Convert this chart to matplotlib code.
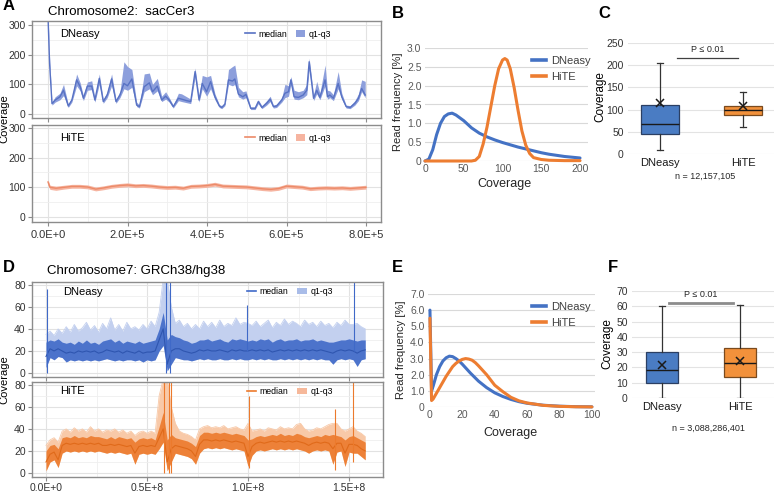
import matplotlib
matplotlib.use("Agg")
import matplotlib.pyplot as plt
import numpy as np
from matplotlib.lines import Line2D
from matplotlib.patches import Patch

plt.rcParams['font.family'] = ['Liberation Sans', 'DejaVu Sans']

# ---------------- data ----------------
# A: chromosome 2 (sacCer3), DNeasy
a_kb = [0, 4, 10, 18, 30, 39, 51, 60, 72, 81, 89, 99, 110, 118, 129, 139, 149, 160, 171, 181,
        191, 200, 211, 223, 230, 242, 255, 263, 275, 286, 296, 305, 315, 328, 336, 349, 359, 370,
        380, 388, 399, 409, 420, 431, 437, 445, 454, 464, 470, 479, 490, 498, 510, 521, 529, 538,
        550, 559, 567, 575, 588, 596, 605, 611, 619, 630, 642, 651, 657, 668, 676, 684, 697, 703,
        709, 718, 730, 739, 750, 760, 772, 781, 789, 798]
a_dn_med = [330, 170, 35, 47, 58, 80, 27, 47, 115, 92, 53, 94, 94, 47, 120, 42, 64, 118, 42, 64,
            103, 95, 118, 30, 25, 92, 105, 75, 94, 47, 60, 47, 25, 53, 50, 45, 42, 143,
            47, 103, 75, 109, 58, 27, 22, 33, 115, 111, 118, 67, 58, 66, 19, 19, 42, 22,
            36, 50, 25, 27, 47, 70, 75, 115, 58, 56, 64, 80, 176, 53, 80, 56, 115, 58,
            64, 53, 103, 58, 25, 22, 36, 53, 86, 64]
a_dn_q1 = [320, 150, 30, 40, 48, 62, 22, 40, 95, 78, 45, 80, 82, 40, 100, 36, 55, 95, 36, 55,
           85, 80, 90, 25, 20, 75, 85, 65, 78, 42, 50, 40, 20, 45, 42, 38, 35, 125,
           40, 85, 60, 85, 48, 22, 18, 28, 100, 95, 100, 58, 50, 55, 15, 15, 35, 18,
           30, 42, 20, 22, 40, 55, 60, 100, 50, 48, 55, 65, 150, 45, 68, 48, 95, 50,
           55, 45, 85, 50, 20, 18, 30, 45, 75, 55]
a_dn_q3 = [340, 190, 40, 58, 70, 100, 33, 55, 135, 105, 62, 108, 112, 55, 135, 50, 75, 135, 50, 75,
           176, 160, 150, 40, 30, 135, 138, 100, 120, 60, 75, 55, 30, 70, 68, 58, 50, 155,
           60, 130, 125, 130, 68, 32, 28, 40, 150, 160, 165, 90, 75, 78, 24, 24, 48, 28,
           45, 60, 30, 33, 55, 100, 95, 126, 80, 75, 80, 100, 188, 65, 110, 70, 165, 80,
           78, 65, 143, 70, 30, 28, 45, 68, 115, 110]

# A: HiTE
h_kb = [0, 5, 20, 40, 60, 80, 100, 120, 140, 160, 180, 200, 220, 240, 260, 280, 300, 320, 340,
        360, 380, 400, 420, 440, 460, 480, 500, 520, 540, 560, 580, 600, 620, 640, 660, 680, 700,
        720, 740, 760, 780, 800]
h_med = [118, 100, 97, 100, 103, 103, 101, 94, 98, 103, 106, 108, 105, 106, 104, 101, 99, 100, 97,
         103, 104, 106, 110, 104, 103, 102, 101, 98, 95, 93, 96, 104, 102, 100, 95, 97, 98,
         97, 98, 96, 98, 100]
h_q1 = [108, 93, 90, 94, 97, 97, 95, 88, 92, 97, 100, 102, 99, 100, 98, 95, 93, 94, 91,
        97, 98, 100, 104, 98, 97, 96, 95, 92, 89, 87, 90, 98, 96, 94, 89, 91, 92,
        91, 92, 90, 92, 94]
h_q3 = [126, 107, 104, 107, 110, 110, 108, 101, 105, 110, 113, 115, 112, 113, 111, 108, 106, 107, 104,
        110, 111, 113, 117, 111, 110, 109, 108, 105, 102, 100, 103, 111, 109, 107, 102, 104, 105,
        104, 105, 103, 105, 107]

# B: read frequency, sacCer3
b_dn_cov = [0, 5, 10, 15, 20, 25, 30, 35, 40, 50, 60, 70, 80, 90, 100, 110, 120, 130, 140, 150,
            160, 170, 180, 190, 200]
b_dn = [0, 0.05, 0.3, 0.7, 1.0, 1.18, 1.25, 1.27, 1.22, 1.07, 0.88, 0.74, 0.64, 0.56, 0.49, 0.43,
        0.37, 0.32, 0.27, 0.22, 0.18, 0.15, 0.12, 0.1, 0.08]
b_hi_cov = [0, 10, 20, 30, 40, 50, 60, 65, 70, 75, 80, 85, 90, 95, 100, 103, 106, 110, 115, 120,
            125, 130, 135, 140, 150, 160, 180, 200]
b_hi = [0, 0, 0, 0, 0, 0, 0, 0.02, 0.12, 0.45, 0.9, 1.45, 2.0, 2.45, 2.68, 2.72, 2.68, 2.45, 1.95,
        1.35, 0.8, 0.42, 0.2, 0.09, 0.04, 0.02, 0.01, 0.01]

# C: boxplot, sacCer3
groups = ['DNeasy', 'HiTE']
c_whislo = [10, 60]
c_q1 = [45, 88]
c_med = [68, 100]
c_q3 = [110, 108]
c_whishi = [205, 140]
c_mean = [115, 108]

# D: chromosome 7 (GRCh38), 2 Mb bins
d_mb = [0, 2, 4, 6, 8, 10, 12, 14, 16, 18, 20, 22, 24, 26, 28, 30, 32, 34, 36, 38,
        40, 42, 44, 46, 48, 50, 52, 54, 56, 58, 60, 62, 64, 66, 68, 70, 72, 74, 76, 78,
        80, 82, 84, 86, 88, 90, 92, 94, 96, 98, 100, 102, 104, 106, 108, 110, 112, 114, 116, 118,
        120, 122, 124, 126, 128, 130, 132, 134, 136, 138, 140, 142, 144, 146, 148, 150, 152, 154, 156, 158]
d_dn_q1 = [5, 14, 12, 15, 14, 10, 12, 11, 12, 11, 12, 11, 12, 11, 12, 13, 12, 11, 12, 11,
           12, 12, 11, 12, 10, 12, 11, 12, 20, 25, 2, 8, 14, 13, 12, 12, 11, 12, 13, 12,
           13, 12, 12, 13, 12, 12, 13, 12, 13, 12, 12, 13, 12, 13, 12, 13, 12, 12, 13, 12,
           13, 12, 13, 12, 13, 12, 13, 12, 13, 12, 12, 8, 12, 13, 12, 13, 12, 6, 12, 13]
d_dn_med = [15, 22, 20, 22, 20, 18, 19, 18, 20, 19, 20, 19, 20, 18, 19, 21, 20, 19, 20, 18,
            20, 19, 18, 20, 18, 19, 19, 20, 30, 40, 8, 20, 22, 22, 20, 19, 18, 19, 21, 20,
            21, 20, 20, 21, 20, 19, 21, 20, 21, 20, 20, 21, 20, 21, 20, 21, 19, 20, 21, 20,
            21, 20, 21, 20, 21, 20, 21, 20, 21, 20, 19, 18, 20, 21, 20, 21, 20, 18, 20, 21]
d_dn_q3 = [28, 30, 29, 31, 28, 27, 28, 26, 29, 27, 30, 27, 28, 26, 29, 30, 31, 28, 30, 27,
           29, 28, 27, 29, 27, 28, 29, 30, 40, 55, 30, 35, 33, 32, 30, 29, 27, 28, 30, 30,
           31, 29, 30, 31, 29, 28, 31, 30, 31, 30, 29, 30, 29, 31, 30, 31, 28, 30, 31, 29,
           30, 30, 31, 29, 30, 30, 31, 29, 30, 29, 28, 28, 29, 30, 30, 31, 30, 29, 30, 30]
d_dn_hi = [35, 38, 34, 40, 36, 42, 37, 44, 38, 41, 46, 39, 43, 37, 45, 40, 50, 39, 44, 38,
           46, 40, 42, 39, 44, 40, 47, 42, 55, 85, 85, 60, 45, 48, 42, 45, 40, 44, 40, 47,
           42, 46, 41, 48, 42, 45, 43, 50, 44, 46, 45, 43, 47, 42, 45, 48, 41, 46, 43, 49,
           44, 47, 45, 42, 48, 44, 46, 42, 47, 43, 45, 41, 46, 43, 48, 44, 44, 45, 42, 40]
d_dn_spike_mb = [0.3, 59.5, 61.5, 99.5, 152.5]
d_dn_spike_lo = [0, 0, 0, 20, 20]
d_dn_spike_hi = [76, 85, 85, 62, 85]

d_hi_q1 = [2, 10, 12, 5, 18, 20, 19, 20, 19, 20, 19, 20, 19, 20, 19, 18, 19, 18, 19, 18,
           17, 18, 8, 17, 18, 17, 18, 17, 22, 28, 2, 10, 18, 17, 16, 15, 13, 8, 18, 22,
           23, 22, 23, 22, 23, 22, 21, 22, 21, 20, 6, 16, 20, 21, 20, 21, 22, 21, 22, 21,
           22, 21, 22, 21, 20, 18, 20, 21, 20, 21, 20, 8, 19, 20, 6, 19, 18, 18, 15, 12]
d_hi_med = [10, 17, 19, 12, 25, 27, 26, 27, 26, 27, 26, 27, 26, 27, 25, 25, 26, 25, 26, 25,
            24, 25, 18, 24, 25, 24, 25, 24, 32, 40, 10, 22, 25, 24, 23, 22, 20, 15, 26, 30,
            30, 29, 30, 29, 30, 29, 28, 29, 28, 27, 15, 24, 27, 28, 27, 28, 29, 28, 29, 28,
            29, 28, 29, 28, 27, 25, 27, 28, 27, 28, 27, 22, 27, 27, 18, 26, 26, 25, 22, 20]
d_hi_q3 = [20, 25, 26, 22, 32, 33, 32, 34, 32, 33, 32, 34, 33, 33, 32, 31, 33, 31, 33, 32,
           31, 32, 28, 31, 32, 31, 32, 30, 42, 55, 30, 35, 32, 31, 30, 29, 27, 24, 34, 37,
           37, 36, 37, 36, 37, 36, 35, 36, 35, 34, 30, 31, 33, 34, 33, 34, 35, 34, 36, 34,
           35, 34, 36, 35, 33, 32, 33, 34, 33, 35, 34, 35, 34, 33, 30, 33, 34, 32, 30, 28]
d_hi_hi = [25, 30, 32, 28, 38, 40, 37, 41, 38, 40, 37, 42, 38, 40, 37, 39, 38, 40, 37, 39,
           36, 38, 34, 37, 38, 36, 38, 36, 70, 85, 85, 60, 45, 38, 36, 35, 33, 30, 40, 42,
           43, 41, 42, 41, 43, 40, 41, 42, 40, 39, 45, 38, 39, 40, 38, 41, 40, 39, 42, 40,
           41, 40, 44, 45, 40, 38, 39, 41, 40, 42, 44, 45, 45, 40, 38, 40, 42, 38, 36, 33]
d_hi_spike_mb = [58.5, 61.0, 62.0, 100.5, 143.0, 152.0]
d_hi_spike_lo = [0, 0, 0, 5, 3, 10]
d_hi_spike_hi = [85, 85, 85, 70, 58, 85]

# E: read frequency, GRCh38
e_dn_cov = [0, 1, 2, 4, 6, 8, 10, 12, 14, 16, 18, 20, 25, 30, 35, 40, 45, 50, 55, 60, 70, 80, 90, 100]
e_dn = [6.0, 1.0, 1.3, 2.0, 2.5, 2.85, 3.05, 3.15, 3.12, 3.0, 2.85, 2.65, 2.1, 1.6, 1.2, 0.88, 0.65,
        0.47, 0.33, 0.23, 0.11, 0.05, 0.02, 0.01]
e_hi_cov = [0, 1, 2, 4, 6, 8, 10, 12, 14, 16, 18, 20, 22, 24, 26, 28, 30, 35, 40, 45, 50, 55, 60,
            70, 80, 90, 100]
e_hi = [5.5, 0.4, 0.5, 0.85, 1.2, 1.55, 1.9, 2.2, 2.5, 2.7, 2.85, 2.95, 3.0, 2.97, 2.9, 2.75, 2.55,
        2.0, 1.35, 0.95, 0.6, 0.38, 0.25, 0.1, 0.04, 0.015, 0.005]

# F: boxplot, GRCh38
f_whislo = [0, 0]
f_q1 = [10, 14]
f_med = [18, 23]
f_q3 = [30, 33]
f_whishi = [60, 61]
f_mean = [21.5, 24]

# ---------------- figure ----------------
W, H = 774, 494
fig = plt.figure(figsize=(W / 100, H / 100), dpi=100)

def add_ax(x0, y0, x1, y1):
    return fig.add_axes([x0 / W, 1 - y1 / H, (x1 - x0) / W, (y1 - y0) / H])

def ftext(x, y, s, **kw):
    return fig.text(x / W, 1 - y / H, s, **kw)

BLUE = '#4472c4'
ORANGE = '#ed7d31'

def track_frame(ax, xlim, ylim, xticks, xminor, yticks, yminor, xlabels=None):
    ax.set_xlim(xlim)
    ax.set_ylim(ylim)
    ax.set_xticks(xticks)
    ax.set_xticks(xminor, minor=True)
    ax.set_yticks(yticks)
    ax.set_yticks(yminor, minor=True)
    if xlabels is None:
        ax.set_xticklabels([])
    else:
        ax.set_xticklabels(xlabels)
    ax.grid(which='major', color='#e2e2e2', lw=0.8)
    ax.grid(which='minor', color='#efefef', lw=0.6)
    ax.set_axisbelow(True)
    for s in ax.spines.values():
        s.set_color('#8c8c8c')
        s.set_linewidth(1.0)
    ax.tick_params(which='major', length=3, color='#8c8c8c', labelsize=7.5,
                   labelcolor='#333333', pad=1.5)
    ax.tick_params(which='minor', length=0)

def track_legend(ax, line_c, band_c, y):
    handles = [Line2D([], [], color=line_c, lw=1.2), Patch(facecolor=band_c, edgecolor='none')]
    ax.legend(handles, ['median', 'q1-q3'], loc='center right', bbox_to_anchor=(0.87, y),
              ncol=2, frameon=False, fontsize=6.3, handlelength=1.1, handleheight=0.8,
              columnspacing=1.0, handletextpad=0.4, borderpad=0)

# ---- panel A ----
a_xlim = (-40250, 837700)
a_xt = [0, 2e5, 4e5, 6e5, 8e5]
a_xm = [1e5, 3e5, 5e5, 7e5]
a_xl = ['0.0E+0', '2.0E+5', '4.0E+5', '6.0E+5', '8.0E+5']

axa1 = add_ax(32, 21, 381, 118)
track_frame(axa1, a_xlim, (-13.5, 313.5), a_xt, a_xm, [0, 100, 200, 300], [50, 150, 250])
xs = np.array(a_kb) * 1000
axa1.fill_between(xs, a_dn_q1, a_dn_q3, color='#8d9fdc', lw=0)
axa1.plot(xs, a_dn_med, color='#5872c4', lw=1.0)
axa1.text(0.08, 0.87, 'DNeasy', transform=axa1.transAxes, fontsize=8, va='center')
track_legend(axa1, '#5872c4', '#8d9fdc', 0.865)

axa2 = add_ax(32, 125, 381, 222)
track_frame(axa2, a_xlim, (-16.8, 310), a_xt, a_xm, [0, 100, 200, 300], [50, 150, 250], a_xl)
xs = np.array(h_kb) * 1000
axa2.fill_between(xs, h_q1, h_q3, color='#f6b4a0', lw=0)
axa2.plot(xs, h_med, color='#ec8a68', lw=1.0)
axa2.text(0.08, 0.87, 'HiTE', transform=axa2.transAxes, fontsize=8, va='center')
track_legend(axa2, '#ec8a68', '#f6b4a0', 0.865)
axa2.tick_params(axis='x', labelsize=8, pad=3)

ftext(4.5, 119, 'Coverage', rotation=90, fontsize=8, ha='center', va='center')
ftext(48, 12, 'Chromosome2:  sacCer3', fontsize=9.5, ha='left', va='center')
ftext(3, 6, 'A', fontsize=12, fontweight='bold', ha='left', va='center')

# ---- panel D ----
d_xlim = (-6.93e6, 1.668e8)
d_xt = [0, 0.5e8, 1.0e8, 1.5e8]
d_xm = [0.25e8, 0.75e8, 1.25e8]
d_xl = ['0.0E+0', '0.5E+8', '1.0E+8', '1.5E+8']

def draw_track(ax, q1, med, q3, hi, sp_x, sp_lo, sp_hi, dark, light, medc):
    xs = np.array(d_mb) * 1e6
    ax.fill_between(xs, q1, hi, color=light, lw=0)
    ax.plot(xs, hi, color=light, lw=0.6)
    ax.fill_between(xs, q1, q3, color=dark, lw=0, alpha=0.9)
    ax.plot(xs, med, color=medc, lw=0.8)
    ax.vlines(np.array(sp_x) * 1e6, sp_lo, sp_hi, color=dark, lw=0.8)

axd1 = add_ax(32, 282, 383, 377)
track_frame(axd1, d_xlim, (-3.6, 82.5), d_xt, d_xm, [0, 20, 40, 60, 80], [10, 30, 50, 70])
draw_track(axd1, d_dn_q1, d_dn_med, d_dn_q3, d_dn_hi, d_dn_spike_mb, d_dn_spike_lo,
           d_dn_spike_hi, '#3f69c8', '#c3d0ef', '#2f56b0')
axd1.text(0.09, 0.9, 'DNeasy', transform=axd1.transAxes, fontsize=8, va='center')
track_legend(axd1, '#3f69c8', '#a9bce8', 0.9)

axd2 = add_ax(32, 382, 383, 477)
track_frame(axd2, d_xlim, (-3.6, 82.5), d_xt, d_xm, [0, 20, 40, 60, 80], [10, 30, 50, 70], d_xl)
draw_track(axd2, d_hi_q1, d_hi_med, d_hi_q3, d_hi_hi, d_hi_spike_mb, d_hi_spike_lo,
           d_hi_spike_hi, '#ec7a2c', '#f8c9a8', '#e06a1a')
axd2.text(0.08, 0.9, 'HiTE', transform=axd2.transAxes, fontsize=8, va='center')
track_legend(axd2, '#ec7a2c', '#f6b89a', 0.9)
axd2.tick_params(axis='x', labelsize=7.5, pad=1.5)

ftext(4.5, 380, 'Coverage', rotation=90, fontsize=8, ha='center', va='center')
ftext(47, 271, 'Chromosome7: GRCh38/hg38', fontsize=9.5, ha='left', va='center')
ftext(3, 267, 'D', fontsize=12, fontweight='bold', ha='left', va='center')

# ---- Excel-like frequency panels ----
def excel_frame(ax, yticks, ylabels, xticks):
    for s in ax.spines.values():
        s.set_visible(False)
    ax.set_yticks(yticks)
    ax.set_yticklabels(ylabels)
    ax.set_xticks(xticks)
    ax.grid(axis='y', color='#d9d9d9', lw=0.8)
    ax.set_axisbelow(True)
    ax.tick_params(length=0, labelsize=7.5, labelcolor='#595959', pad=2.5)

def freq_legend(ax, x, y):
    handles = [Line2D([], [], color=BLUE, lw=2.6), Line2D([], [], color=ORANGE, lw=2.6)]
    ax.legend(handles, groups, loc='upper left', bbox_to_anchor=(x / W, 1 - y / H),
              bbox_transform=fig.transFigure, frameon=False, fontsize=8,
              handlelength=1.3, handletextpad=0.5, labelspacing=0.55, borderpad=0,
              labelcolor='#404040')

axb = add_ax(425, 48, 588, 161)
axb.set_xlim(0, 210.3)
axb.set_ylim(0, 3.0)
excel_frame(axb, [0, 0.5, 1.0, 1.5, 2.0, 2.5, 3.0],
            ['0', '0.5', '1.0', '1.5', '2.0', '2.5', '3.0'], [0, 50, 100, 150, 200])
axb.plot(b_dn_cov, b_dn, color=BLUE, lw=2.2, clip_on=False, solid_capstyle='round')
axb.plot(b_hi_cov, b_hi, color=ORANGE, lw=2.2, clip_on=False, solid_capstyle='round')
freq_legend(axb, 526, 50)
ftext(398, 102, 'Read frequency [%]', rotation=90, fontsize=8, ha='center', va='center',
      color='#262626')
ftext(504, 184, 'Coverage', fontsize=9, ha='center', va='center', color='#262626')
ftext(392, 13, 'B', fontsize=12, fontweight='bold', ha='left', va='center')

axe = add_ax(428, 294, 595, 407)
axe.set_xlim(-1.2, 101.9)
axe.set_ylim(0, 7.0)
excel_frame(axe, [0, 1, 2, 3, 4, 5, 6, 7],
            ['0', '1.0', '2.0', '3.0', '4.0', '5.0', '6.0', '7.0'], [0, 20, 40, 60, 80, 100])
axe.plot(e_dn_cov, e_dn, color=BLUE, lw=2.2, clip_on=False, solid_capstyle='round')
axe.plot(e_hi_cov, e_hi, color=ORANGE, lw=2.2, clip_on=False, solid_capstyle='round')
freq_legend(axe, 526, 296)
ftext(401, 350, 'Read frequency [%]', rotation=90, fontsize=8, ha='center', va='center',
      color='#262626')
ftext(510, 433, 'Coverage', fontsize=9, ha='center', va='center', color='#262626')
ftext(392, 268, 'E', fontsize=12, fontweight='bold', ha='left', va='center')

# ---- box plot panels ----
def box_panel(ax, wl, q1, med, q3, wh, mean, width):
    stats = [dict(label=g, whislo=wl[i], q1=q1[i], med=med[i], q3=q3[i], whishi=wh[i],
                  mean=mean[i], fliers=[]) for i, g in enumerate(groups)]
    art = ax.bxp(stats, positions=[1, 2], widths=width, showmeans=True, showfliers=False,
                 patch_artist=True, capwidths=0.07,
                 boxprops=dict(edgecolor='#2b3f63', lw=0.9),
                 medianprops=dict(color='#1a1a1a', lw=1.0),
                 whiskerprops=dict(color='#333333', lw=0.9),
                 capprops=dict(color='#333333', lw=0.9),
                 meanprops=dict(marker='x', markeredgecolor='#1a1a1a', markersize=5.5,
                                markeredgewidth=1.1))
    art['boxes'][0].set_facecolor('#4a7cc3')
    art['boxes'][1].set_facecolor('#f2913b')
    art['boxes'][1].set_edgecolor('#7a4a1e')
    for s in ax.spines.values():
        s.set_visible(False)
    ax.grid(axis='y', color='#e3e3e3', lw=0.8)
    ax.set_axisbelow(True)
    ax.tick_params(axis='y', length=0, labelsize=7.5, labelcolor='#333333', pad=3)
    ax.tick_params(axis='x', length=0, labelsize=8, labelcolor='#1a1a1a', pad=3)

axc = add_ax(628, 43, 774, 154)
box_panel(axc, c_whislo, c_q1, c_med, c_q3, c_whishi, c_mean, 0.46)
axc.set_xlim(0.614, 2.373)
axc.set_ylim(0, 250)
axc.set_yticks([0, 50, 100, 150, 200, 250])
axc.plot([1.204, 1.94], [216, 216], color='#404040', lw=0.9)
axc.text(1.57, 225, 'P \u2264 0.01', fontsize=6.5, ha='center', va='bottom', color='#262626')
ftext(705, 176, 'n = 12,157,105', fontsize=6.5, ha='center', va='center', color='#262626')
ftext(600, 97, 'Coverage', rotation=90, fontsize=8.5, ha='center', va='center')
ftext(598, 13, 'C', fontsize=12, fontweight='bold', ha='left', va='center')

axf = add_ax(632, 291, 774, 398)
box_panel(axf, f_whislo, f_q1, f_med, f_q3, f_whishi, f_mean, 0.40)
axf.set_xlim(0.615, 2.436)
axf.set_ylim(0, 70)
axf.set_yticks([0, 10, 20, 30, 40, 50, 60, 70])
axf.plot([1.089, 1.91], [62.1, 62.1], color='#8c8c8c', lw=2.0)
axf.text(1.5, 64.5, 'P \u2264 0.01', fontsize=6.5, ha='center', va='bottom', color='#262626')
ftext(708, 428, 'n = 3,088,286,401', fontsize=6.5, ha='center', va='center', color='#262626')
ftext(607, 344, 'Coverage', rotation=90, fontsize=8.5, ha='center', va='center')
ftext(608, 267, 'F', fontsize=12, fontweight='bold', ha='left', va='center')

fig.savefig('out.png', dpi=100)
